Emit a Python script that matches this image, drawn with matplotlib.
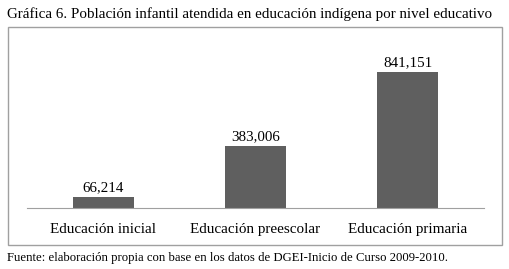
import matplotlib.pyplot as plt
from matplotlib.patches import Rectangle

# data
categories = ["Educación inicial", "Educación preescolar", "Educación primaria"]
values = [66214, 383006, 841151]
value_labels = ["66,214", "383,006", "841,151"]

title = "Gráfica 6. Población infantil atendida en educación indígena por nivel educativo"
source = "Fuente: elaboración propia con base en los datos de DGEI-Inicio de Curso 2009-2010."

W, H = 509, 269
plt.rcParams['font.family'] = ['Liberation Serif', 'DejaVu Serif']

fig = plt.figure(figsize=(W / 100, H / 100), dpi=100)

# outer frame around the chart area
fig.patches.append(Rectangle((8 / W, 1 - 245 / H), 494 / W, 218 / H,
                             transform=fig.transFigure, fill=False,
                             edgecolor="#a0a0a0", linewidth=1))

ax = fig.add_axes([27 / W, 1 - 208 / H, 457 / W, 168 / H])
x = range(len(categories))
ax.bar(x, values, width=0.4, color="#5f5f5f")
for xi, v, lab in zip(x, values, value_labels):
    ax.text(xi, v + 18000, lab, ha="center", va="bottom", fontsize=10.8)

ax.set_xlim(-0.5, 2.5)
ax.set_ylim(0, 1040000)
ax.set_xticks(list(x))
ax.set_xticklabels(categories, fontsize=10.9)
ax.tick_params(axis="x", length=0, pad=11)
ax.set_yticks([])
for s in ["top", "right", "left"]:
    ax.spines[s].set_visible(False)
ax.spines["bottom"].set_color("#a0a0a0")

fig.text(7 / W, 1 - 14 / H, title, fontsize=10.8, va="center", ha="left")
fig.text(7 / W, 1 - 258 / H, source, fontsize=9.2, va="center", ha="left")

fig.savefig("out.png", dpi=100)
